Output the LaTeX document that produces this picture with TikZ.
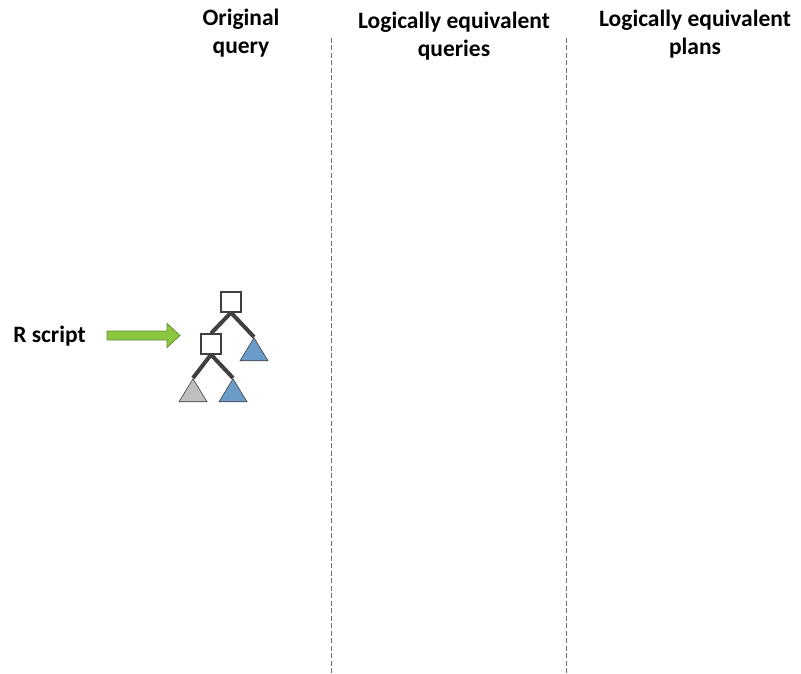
\documentclass[tikz,border=0pt]{standalone}
\usepackage{fontspec}
\setmainfont{Carlito}
\usetikzlibrary{shapes.geometric}
\definecolor{edgegray}{HTML}{404040}
\definecolor{dashgray}{HTML}{707070}
\definecolor{arrowgreen}{HTML}{8DC63F}
\definecolor{arrowline}{HTML}{5E8E2E}
\definecolor{leafblue}{HTML}{6B9BC8}
\definecolor{leafgray}{HTML}{BFBFBF}
\begin{document}
\begin{tikzpicture}[x=1pt,y=-1pt,
  heading/.style={font=\bfseries\fontsize{23.5}{28}\selectfont, align=center, inner sep=0pt, anchor=base},
  sep/.style={draw=dashgray, line width=0.9pt, dash pattern=on 5pt off 2.5pt},
  opbox/.style={draw=edgegray, line width=1.2pt, fill=white, minimum size=20pt, inner sep=0pt},
  leaf/.style={isosceles triangle, isosceles triangle stretches, shape border rotate=90,
     minimum height=23pt, minimum width=28pt, inner sep=0pt, anchor=apex, draw=edgegray, line width=0.6pt},
  tedge/.style={draw=edgegray, line width=4pt}
]
\useasboundingbox (0,0) rectangle (801,674);
% headings
\node[heading] (h1) at (241,54) {Original\\query};
\node[heading] (h2) at (454,57) {Logically equivalent\\queries};
\node[heading] (h3) at (695,55) {Logically equivalent\\plans};
% separators
\coordinate (s1t) at (331,38); \coordinate (s1b) at (331,674);
\coordinate (s2t) at (566,38); \coordinate (s2b) at (566,674);
\draw[sep] (s1t) -- (s1b);
\draw[sep] (s2t) -- (s2b);
% R script label
\node[font=\bfseries\fontsize{23.5}{28}\selectfont, inner sep=0pt, anchor=base east] (rs) at (86,342) {R script};
% green block arrow
\fill[arrowgreen, draw=arrowline, line width=0.8pt]
  (107,331) -- (167,331) -- (167,323.5) -- (180,335.5) -- (167,347.5) -- (167,340) -- (107,340) -- cycle;
% tree
\node[opbox] (j1) at (231,302) {};
\node[opbox] (j2) at (211,344) {};
\node[leaf, fill=leafblue] (t1) at (254,337) {};
\node[leaf, fill=leafgray] (t2) at (193,378) {};
\node[leaf, fill=leafblue] (t3) at (233,378) {};
\draw[tedge] (j1.south) -- (j2.north);
\draw[tedge] (j1.south) -- (t1.apex);
\draw[tedge] (j2.south) -- (t2.apex);
\draw[tedge] (j2.south) -- (t3.apex);
\node[opbox] at (j1) {};
\node[opbox] at (j2) {};
\end{tikzpicture}
\end{document}
